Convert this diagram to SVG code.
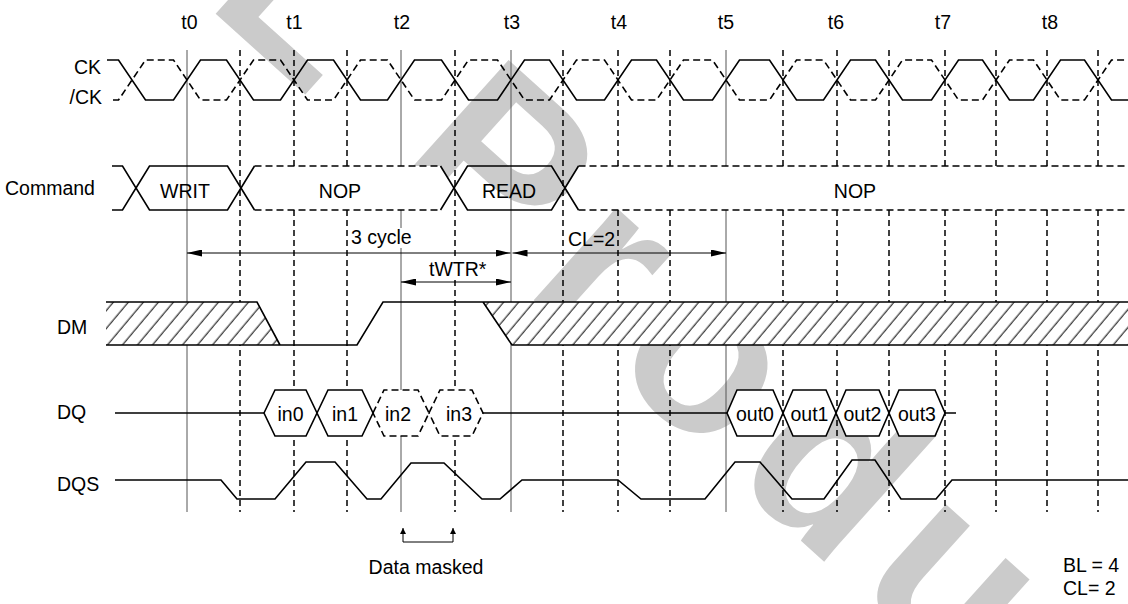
<svg xmlns="http://www.w3.org/2000/svg" width="1128" height="604" viewBox="0 0 1128 604">
<style>
text{font-family:"Liberation Sans",Arial,sans-serif;font-size:19.5px;fill:#000}
.mid{text-anchor:middle}
.end{text-anchor:end}
.wm{font-size:235px;font-weight:bold;fill:#cbcbcb;letter-spacing:22px}
.sol{stroke:#555;stroke-width:1;fill:none}
.dsh{stroke:#000;stroke-width:1.5;stroke-dasharray:6 4;fill:none}
.sig{stroke:#000;stroke-width:1.6;fill:none;stroke-linejoin:miter}
.sigd{stroke:#000;stroke-width:1.6;fill:none;stroke-dasharray:7 4}
.wf{fill:#fff;stroke:none}
.dim{stroke:#000;stroke-width:1;fill:none}
</style>
<defs>
<marker id="ah" viewBox="0 0 15 7" refX="15" refY="3.5" markerWidth="15" markerHeight="7" markerUnits="userSpaceOnUse" orient="auto-start-reverse"><path d="M0,0 L15,3.5 L0,7 z" fill="#000"/></marker>
<marker id="sah" viewBox="0 0 6 6" refX="6" refY="3" markerWidth="6" markerHeight="6" markerUnits="userSpaceOnUse" orient="auto"><path d="M0,0 L6,3 L0,6 z" fill="#000"/></marker>
<pattern id="hatch" width="11.5" height="11.5" patternUnits="userSpaceOnUse" patternTransform="rotate(40)"><rect width="11.5" height="11.5" fill="#fff"/><line x1="5" y1="0" x2="5" y2="11.5" stroke="#000" stroke-width="1"/></pattern>
</defs>
<rect width="1128" height="604" fill="#fff"/>
<text class="wm" transform="translate(217,15) rotate(42)" x="-401" y="0">EOL Product</text>

<g id="grid">
<path class="sol" d="M187,50V512M401,50V512M511,50V512M726,50V512"/>
<path class="dsh" d="M240,50V512M294,50V512M347,50V512M455,50V512M563,50V512M618,50V512M670,50V512M783,50V512M837,50V512M889,50V512M945,50V512M996,50V512M1047,50V512M1098,50V512"/>
</g>

<g id="time-labels">
<text class="mid" x="189.5" y="29">t0</text>
<text class="mid" x="294.5" y="29">t1</text>
<text class="mid" x="402" y="29">t2</text>
<text class="mid" x="512" y="29">t3</text>
<text class="mid" x="619" y="29">t4</text>
<text class="mid" x="726" y="29">t5</text>
<text class="mid" x="836" y="29">t6</text>
<text class="mid" x="943" y="29">t7</text>
<text class="mid" x="1050" y="29">t8</text>
</g>

<g id="signal-labels">
<text class="end" x="101" y="74">CK</text>
<text class="end" x="102" y="104">/CK</text>
<text x="5" y="195">Command</text>
<text x="57" y="334">DM</text>
<text x="57" y="419">DQ</text>
<text x="57" y="491">DQS</text>
</g>

<g id="clock">
<path class="sig" d="M107,60 L118.5,60 L145.5,100 L173.5,100 L200.5,60 L226.5,60 L253.5,100 L280.5,100 L307.5,60 L333.5,60 L360.5,100 L387.5,100 L414.5,60 L441.5,60 L468.5,100 L497.5,100 L524.5,60 L549.5,60 L576.5,100 L604.5,100 L631.5,60 L656.5,60 L683.5,100 L712.5,100 L739.5,60 L769.5,60 L796.5,100 L823.5,100 L850.5,60 L875.5,60 L902.5,100 L931.5,100 L958.5,60 L982.5,60 L1009.5,100 L1033.5,100 L1060.5,60 L1084.5,60 L1111.5,100 L1128,100"/>
<path class="sigd" d="M113,100 L118.5,100 L145.5,60 L173.5,60 L200.5,100 L226.5,100 L253.5,60 L280.5,60 L307.5,100 L333.5,100 L360.5,60 L387.5,60 L414.5,100 L441.5,100 L468.5,60 L497.5,60 L524.5,100 L549.5,100 L576.5,60 L604.5,60 L631.5,100 L656.5,100 L683.5,60 L712.5,60 L739.5,100 L769.5,100 L796.5,60 L823.5,60 L850.5,100 L875.5,100 L902.5,60 L931.5,60 L958.5,100 L982.5,100 L1009.5,60 L1033.5,60 L1060.5,100 L1084.5,100 L1111.5,60 L1128,60"/>
</g>

<g id="command">
<path class="sig" d="M112,166 L122.5,166 L136,188 L122.5,210 L112,210"/>
<g id="cmd-writ">
<path d="M136,188 L149.5,166 L227.5,166 L241,188 L227.5,210 L149.5,210 Z" fill="#fff" class="sig"/>
<text class="mid" x="185" y="198">WRIT</text>
</g>
<g id="cmd-nop1">
<path class="wf" d="M241,188 L254.5,166 L440.5,166 L454,188 L440.5,210 L254.5,210 Z"/>
<path class="sig" d="M241,188 L254.5,166 M241,188 L254.5,210 M440.5,166 L454,188 L440.5,210"/>
<path class="sigd" d="M254.5,166 H440.5 M254.5,210 H440.5"/>
<text class="mid" x="340" y="198">NOP</text>
</g>
<g id="cmd-read">
<path d="M454,188 L467.5,166 L551.5,166 L565,188 L551.5,210 L467.5,210 Z" fill="#fff" class="sig"/>
<text class="mid" x="509" y="198">READ</text>
</g>
<g id="cmd-nop2">
<path class="wf" d="M565,188 L578.5,166 L1128,166 L1128,210 L578.5,210 Z"/>
<path class="sig" d="M565,188 L578.5,166 M565,188 L578.5,210"/>
<path class="sigd" d="M578.5,166 H1128 M578.5,210 H1128"/>
<text class="mid" x="855" y="198">NOP</text>
</g>
</g>

<g id="dm">
<path d="M106,302 L257,302 L280,345 L106,345 Z" fill="url(#hatch)"/>
<path d="M483,302 L1128,302 L1128,345 L512,345 Z" fill="url(#hatch)"/>
<path class="sig" d="M106,302 L257,302 L280,345 M106,345 L357,345 L383,302 L1128,302 M483,302 L512,345 L1128,345"/>
</g>

<g id="dq">
<path class="sig" d="M115,413 L264,413 M483,413 L727,413 M945,413 L956,413"/>
<g id="dq-in0"><path class="sig" d="M264,413 L275,390 L306,390 L317,413 L306,436 L275,436 Z" style="fill:#fff"/><text class="mid" x="290.5" y="420.5">in0</text></g>
<g id="dq-in1"><path class="sig" d="M317,413 L328,390 L362,390 L373,413 L362,436 L328,436 Z" style="fill:#fff"/><text class="mid" x="345" y="420.5">in1</text></g>
<g id="dq-in2"><path class="sigd" d="M373,413 L384,390 L418,390 L429,413 L418,436 L384,436 Z" style="fill:#fff"/><text class="mid" x="398" y="420.5">in2</text></g>
<g id="dq-in3"><path class="sigd" d="M429,413 L440,390 L472,390 L483,413 L472,436 L440,436 Z" style="fill:#fff"/><text class="mid" x="459" y="420.5">in3</text></g>
<g id="dq-out0"><path class="sig" d="M727,413 L737,390 L773,390 L783,413 L773,436 L737,436 Z" style="fill:#fff"/><text class="mid" x="755" y="420.5">out0</text></g>
<g id="dq-out1"><path class="sig" d="M783,413 L793,390 L826,390 L836,413 L826,436 L793,436 Z" style="fill:#fff"/><text class="mid" x="809.5" y="420.5">out1</text></g>
<g id="dq-out2"><path class="sig" d="M836,413 L846,390 L879,390 L889,413 L879,436 L846,436 Z" style="fill:#fff"/><text class="mid" x="862.5" y="420.5">out2</text></g>
<g id="dq-out3"><path class="sig" d="M889,413 L899,390 L935,390 L945,413 L935,436 L899,436 Z" style="fill:#fff"/><text class="mid" x="917" y="420.5">out3</text></g>
</g>

<g id="dqs">
<path class="sig" d="M115,480 L221,480 L237,499 L275,499 L306,462 L335,462 L367,499 L381,499 L411,463 L444,463 L482,499 L500,499 L522,480 L618,480 L641,499 L705,499 L735,462 L760,462 L792,499 L824,499 L852,460 L875,460 L901,499 L936,499 L952,480 L1128,480"/>
</g>

<g id="connectors">
<path class="dim" d="M187,253 H510.5" marker-start="url(#ah)" marker-end="url(#ah)"/>
<path class="dim" d="M512.5,253 H726" marker-start="url(#ah)" marker-end="url(#ah)"/>
<path class="dim" d="M401,282 H511" marker-start="url(#ah)" marker-end="url(#ah)"/>
<path class="dim" d="M403,542 H453"/>
<path class="dim" d="M403,542 V528" marker-end="url(#sah)"/>
<path class="dim" d="M453,542 V528" marker-end="url(#sah)"/>
</g>

<g id="dim-labels">
<rect x="349" y="228" width="65" height="20" fill="#fff"/>
<text x="351" y="244">3 cycle</text>
<rect x="427" y="259" width="62" height="19" fill="#fff"/>
<text x="429" y="276">tWTR*</text>
<text x="568" y="246">CL=2</text>
<text class="mid" x="426" y="574">Data masked</text>
<text x="1063" y="572">BL = 4</text>
<text x="1063" y="595">CL= 2</text>
</g>
</svg>
